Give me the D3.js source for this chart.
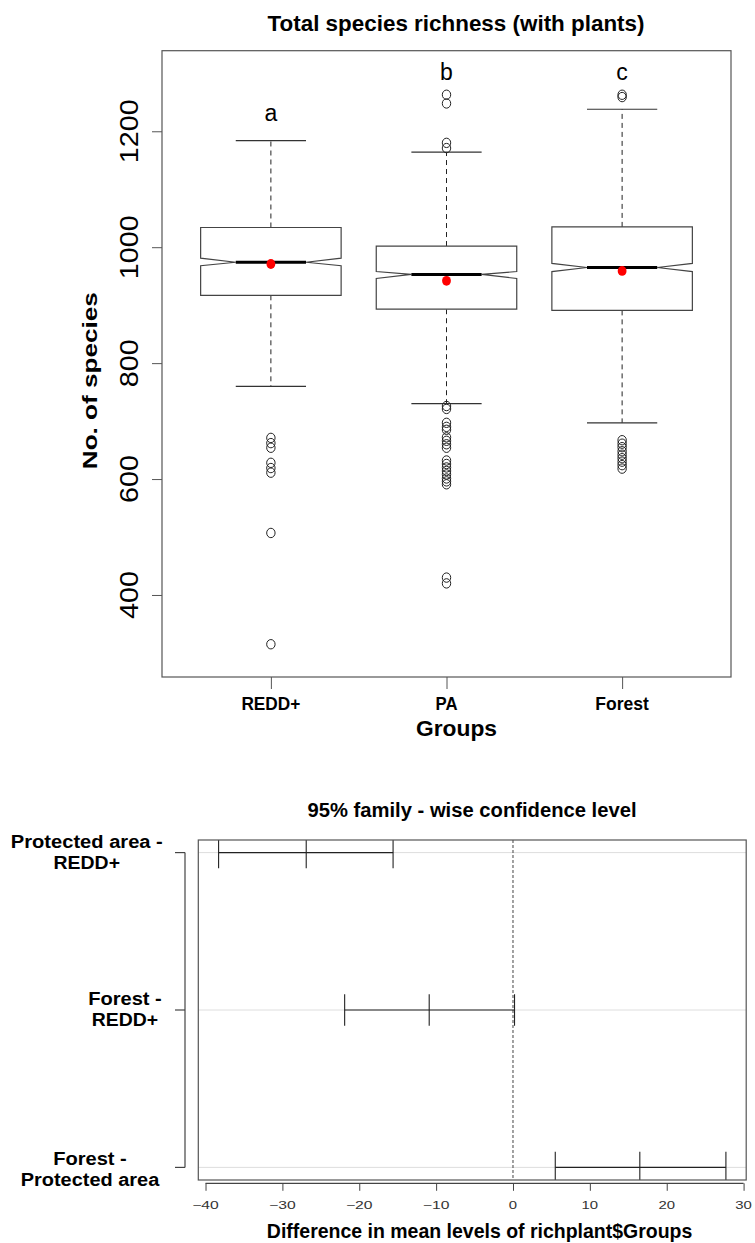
<!DOCTYPE html>
<html>
<head>
<meta charset="utf-8">
<script src="https://cdn.jsdelivr.net/npm/d3@7"></script>
<style>
  body { margin: 0; background: #fff; }
  svg { display: block; }
  text { font-family: "Liberation Sans", Arial, Helvetica, sans-serif; fill: #000; }
</style>
</head>
<body>
<svg id="chart" width="755" height="1243"></svg>
<script>
// ---- Box plot: total species richness per group ----
const groups = ["REDD+", "PA", "Forest"];
const lowerWhisker = [760, 730, 697];
const q1 = [917, 893, 891];
const medians = [974, 953, 965];
const q3 = [1034, 1002, 1035];
const upperWhisker = [1184, 1164, 1238];
const notchLow = [968, 946, 958];
const notchHigh = [981, 958, 972];
const means = [971, 942, 959];
const outliersREDD = [671, 662, 654, 628, 619, 611, 507, 315];
const outliersPA = [1263, 1248, 1180, 1171, 726, 721, 697, 690, 685, 672, 666, 660, 654,
                    632, 626, 620, 614, 608, 601, 596, 591, 430, 420];
const outliersForest = [1263, 1259, 667, 661, 655, 648, 642, 636, 630, 624, 618];
const groupLetters = ["a", "b", "c"];
const letterLevels = [1217, 1289, 1289];
const yTicks = [400, 600, 800, 1000, 1200];

// ---- Tukey HSD: differences in mean levels ----
const compLine1 = ["Protected area -", "Forest -", "Forest -"];
const compLine2 = ["REDD+", "REDD+", "Protected area"];
const diffLower = [-38.3, -21.9, 5.5];
const diffMean = [-26.9, -10.9, 16.5];
const diffUpper = [-15.6, 0.2, 27.7];
const diffTicks = [-40, -30, -20, -10, 0, 10, 20, 30];

const svg = d3.select("#chart");

// text helper: optional fixed rendered length and rotation
function label(parent, s, x, y, o = {}) {
  const t = parent.append("text")
    .text(s)
    .attr("font-size", o.size || 14)
    .attr("font-weight", o.bold ? "bold" : "normal")
    .attr("text-anchor", o.anchor || "middle");
  if (o.fill) t.style("fill", o.fill);
  if (o.w) t.attr("textLength", o.w).attr("lengthAdjust", "spacingAndGlyphs");
  if (o.rotate) t.attr("transform", `translate(${x},${y}) rotate(-90)`);
  else t.attr("x", x).attr("y", y);
  return t;
}

// ================= Top: box plot =================
const boxArea = { left: 162, right: 731, top: 50.7, bottom: 677 };
const x = d3.scaleLinear().domain([0.38, 3.62]).range([boxArea.left, boxArea.right]);
const y = d3.scaleLinear().domain([258.5, 1339]).range([boxArea.bottom, boxArea.top]);
const g1 = svg.append("g");

label(g1, "Total species richness (with plants)", 456, 30.5, { size: 22, bold: true, w: 377 });

// y axis ticks
const yAx = g1.append("g").attr("transform", `translate(${boxArea.left},0)`)
  .call(d3.axisLeft(y).tickValues(yTicks).tickSize(10).tickFormat(""));
yAx.select(".domain").remove();
yAx.selectAll(".tick line").attr("stroke", "#555");
yTicks.forEach(v => {
  const s = String(v);
  label(g1, s, 138, y(v), { size: 26, w: s.length * 16, rotate: true });
});
label(g1, "No. of species", 97, 380.7, { size: 20, bold: true, w: 177, rotate: true });

// x axis ticks
const xAx = g1.append("g").attr("transform", `translate(0,${boxArea.bottom})`)
  .call(d3.axisBottom(x).tickValues([1, 2, 3]).tickSize(12).tickFormat(""));
xAx.select(".domain").remove();
xAx.selectAll(".tick line").attr("stroke", "#555");
const groupLabelW = [59, 22, 53.5];
groups.forEach((gname, i) => {
  label(g1, gname, x(i + 1), 710, { size: 18.5, bold: true, w: groupLabelW[i] });
});
label(g1, "Groups", 456.5, 736, { size: 22, bold: true, w: 81 });

// boxes
const hw = 0.4;
groups.forEach((gname, i) => {
  const c = i + 1;
  const L = x(c - hw), R = x(c + hw), iL = x(c - hw / 2), iR = x(c + hw / 2);
  const gb = g1.append("g");
  // whiskers
  gb.append("line").attr("x1", x(c)).attr("x2", x(c))
    .attr("y1", y(q3[i])).attr("y2", y(upperWhisker[i]))
    .attr("stroke", "#222").attr("stroke-dasharray", "5,4");
  gb.append("line").attr("x1", x(c)).attr("x2", x(c))
    .attr("y1", y(q1[i])).attr("y2", y(lowerWhisker[i]))
    .attr("stroke", "#222").attr("stroke-dasharray", "5,4");
  [upperWhisker[i], lowerWhisker[i]].forEach(v => {
    gb.append("line").attr("x1", iL).attr("x2", iR)
      .attr("y1", y(v)).attr("y2", y(v))
      .attr("stroke", "#333").attr("stroke-width", 1.2);
  });
  // notched box
  const pts = [
    [L, y(q1[i])], [L, y(notchLow[i])], [iL, y(medians[i])], [L, y(notchHigh[i])],
    [L, y(q3[i])], [R, y(q3[i])], [R, y(notchHigh[i])], [iR, y(medians[i])],
    [R, y(notchLow[i])], [R, y(q1[i])]
  ];
  gb.append("path").attr("d", d3.line()(pts) + "Z")
    .attr("fill", "#fff").attr("stroke", "#444").attr("stroke-width", 1.2);
  gb.append("line").attr("x1", iL).attr("x2", iR)
    .attr("y1", y(medians[i])).attr("y2", y(medians[i]))
    .attr("stroke", "#000").attr("stroke-width", 3);
  // mean
  gb.append("ellipse").attr("cx", x(c)).attr("cy", y(means[i]))
    .attr("rx", 4.4).attr("ry", 4.9).attr("fill", "#ff0000");
  // letters
  label(g1, groupLetters[i], x(c), y(letterLevels[i]), { size: 23 });
});

// outliers
[outliersREDD, outliersPA, outliersForest].forEach((vals, i) => {
  g1.append("g").selectAll("ellipse").data(vals).join("ellipse")
    .attr("cx", x(i + 1)).attr("cy", d => y(d))
    .attr("rx", 4.2).attr("ry", 4.7)
    .attr("fill", "none").attr("stroke", "#222").attr("stroke-width", 1);
});

// frame
g1.append("rect").attr("x", boxArea.left).attr("y", boxArea.top)
  .attr("width", boxArea.right - boxArea.left).attr("height", boxArea.bottom - boxArea.top)
  .attr("fill", "none").attr("stroke", "#555").attr("stroke-width", 1.2);

// ================= Bottom: Tukey HSD intervals =================
const hsdArea = { left: 198.3, right: 746.2, top: 840, bottom: 1180 };
const x2 = d3.scaleLinear().domain([-40.94, 30.34]).range([hsdArea.left, hsdArea.right]);
const y2 = d3.scaleLinear().domain([0.92, 3.08]).range([hsdArea.bottom, hsdArea.top]);
const rows = [3, 2, 1];
const g2 = svg.append("g");

label(g2, "95% family - wise confidence level", 472, 816.7, { size: 20, bold: true, w: 329 });

g2.append("clipPath").attr("id", "plotClip").append("rect")
  .attr("x", hsdArea.left).attr("y", hsdArea.top)
  .attr("width", hsdArea.right - hsdArea.left).attr("height", hsdArea.bottom - hsdArea.top);
const pg = g2.append("g").attr("clip-path", "url(#plotClip)");

// light row guides
rows.forEach(r => {
  pg.append("line").attr("x1", hsdArea.left).attr("x2", hsdArea.right)
    .attr("y1", y2(r)).attr("y2", y2(r))
    .attr("stroke", "#d6d6d6").attr("stroke-width", 0.8);
});
// zero reference
pg.append("line").attr("x1", x2(0)).attr("x2", x2(0))
  .attr("y1", hsdArea.top).attr("y2", hsdArea.bottom)
  .attr("stroke", "#444").attr("stroke-dasharray", "3,2");
// intervals
rows.forEach((r, i) => {
  const yy = y2(r);
  pg.append("line").attr("x1", x2(diffLower[i])).attr("x2", x2(diffUpper[i]))
    .attr("y1", yy).attr("y2", yy).attr("stroke", "#222").attr("stroke-width", 1.1);
  [diffLower[i], diffMean[i], diffUpper[i]].forEach(v => {
    pg.append("line").attr("x1", x2(v)).attr("x2", x2(v))
      .attr("y1", yy - 15.7).attr("y2", yy + 15.7)
      .attr("stroke", "#222").attr("stroke-width", 1.1);
  });
});

// frame
g2.append("rect").attr("x", hsdArea.left).attr("y", hsdArea.top)
  .attr("width", hsdArea.right - hsdArea.left).attr("height", hsdArea.bottom - hsdArea.top)
  .attr("fill", "none").attr("stroke", "#555").attr("stroke-width", 1.2);

// x axis
const xAx2 = g2.append("g").attr("transform", "translate(0,1183.3)")
  .call(d3.axisBottom(x2).tickValues(diffTicks).tickSize(7.5).tickFormat(""));
xAx2.select(".domain").remove();
xAx2.selectAll(".tick line").attr("stroke", "#444");
g2.append("line").attr("x1", x2(diffTicks[0])).attr("x2", x2(diffTicks[diffTicks.length - 1]))
  .attr("y1", 1183.3).attr("y2", 1183.3).attr("stroke", "#444").attr("stroke-width", 1.2);
diffTicks.forEach(v => {
  const s = v < 0 ? "\u2212" + Math.abs(v) : String(v);
  const w = (v < 0 ? 10 : 0) + String(Math.abs(v)).length * 8.3;
  label(g2, s, x2(v), 1208.8, { size: 10.5, w: w, fill: "#333" });
});
label(g2, "Difference in mean levels of richplant$Groups", 479.6, 1238.3,
  { size: 20.5, bold: true, w: 425.5 });

// y axis with comparison labels
g2.append("line").attr("x1", 185).attr("x2", 185)
  .attr("y1", y2(rows[0])).attr("y2", y2(rows[2])).attr("stroke", "#444").attr("stroke-width", 1.2);
rows.forEach(r => {
  g2.append("line").attr("x1", 175).attr("x2", 185)
    .attr("y1", y2(r)).attr("y2", y2(r)).attr("stroke", "#444").attr("stroke-width", 1.2);
});
const compCenters = [86.8, 125, 90];
const compBase1 = [848.3, 1005, 1165];
const compW1 = [152, 73.6, 73.6];
const compW2 = [66.4, 66.4, 138.5];
rows.forEach((r, i) => {
  label(g2, compLine1[i], compCenters[i], compBase1[i], { size: 18, bold: true, w: compW1[i] });
  label(g2, compLine2[i], compCenters[i], compBase1[i] + 21, { size: 18, bold: true, w: compW2[i] });
});
</script>
</body>
</html>
